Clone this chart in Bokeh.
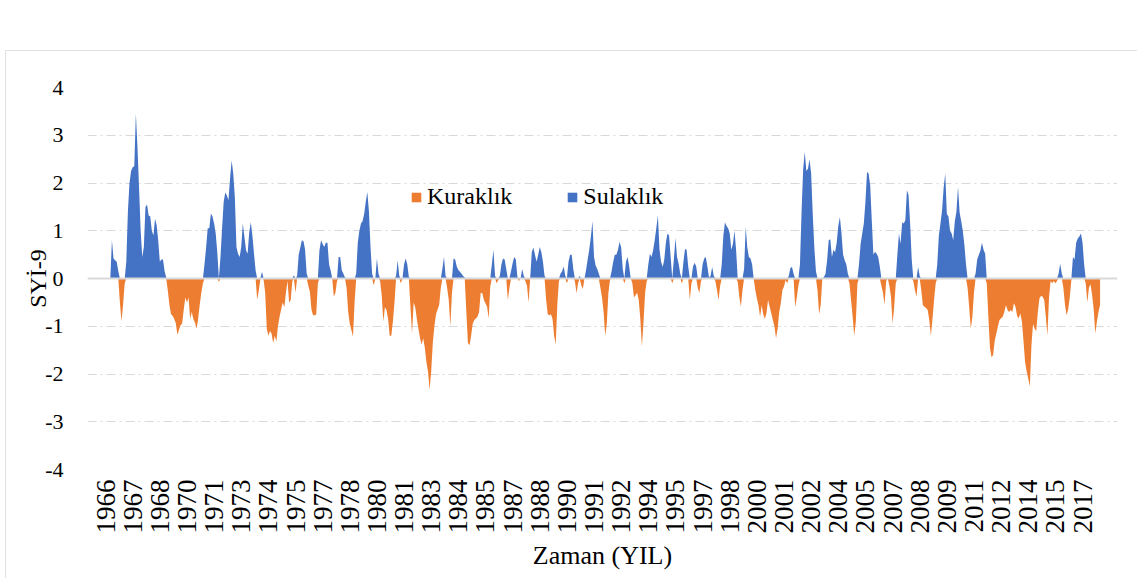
import numpy as np
from bokeh.plotting import figure
from bokeh.layouts import column, row
from bokeh.models import (Range1d, FixedTicker, Span, Legend, LegendItem, Spacer)
from bokeh.embed import file_html
from bokeh.resources import INLINE

# SYİ-9 monthly values, Jan 1966 - Dec 2017
spi_1966 = [0, 0, 0, 0, 0.8, 0.42, 0.38, 0.35, 0.15, -0.5, -0.9, -0.55]
spi_1967 = [-0.1, 0.35, 1.4, 2.0, 2.25, 2.33, 2.35, 3.45, 2.75, 1.9, 1.0, 0.45]
spi_1968 = [0.66, 1.5, 1.55, 1.32, 1.3, 1.0, 0.9, 1.25, 1.12, 0.8, 0.35, 0.4]
spi_1969 = [0.4, 0.15, 0.02, -0.25, -0.55, -0.75, -0.78, -0.85, -0.93, -1.18, -1.08, -0.98]
spi_1970 = [-0.94, -0.65, -0.4, -0.5, -0.4, -0.85, -0.7, -0.85, -0.92, -1.05, -0.85, -0.55]
spi_1971 = [-0.3, -0.1, 0.3, 0.65, 1.05, 1.05, 1.36, 1.3, 1.15, 0.95, 0.55, -0.07]
spi_1972 = [0.45, 1.05, 1.6, 1.8, 1.74, 1.64, 2.1, 2.47, 2.2, 1.7, 0.66, 0.52]
spi_1973 = [0.45, 0.66, 1.15, 0.87, 0.59, 0.52, 0.97, 1.18, 0.9, 0.52, 0.17, -0.45]
spi_1974 = [-0.25, 0.0, 0.14, -0.02, -0.3, -1.05, -1.2, -1.1, -1.15, -1.35, -1.2, -1.32]
spi_1975 = [-1.0, -0.8, -0.65, -0.5, -0.6, -0.3, -0.05, -0.5, -0.45, -0.05, 0.07, -0.3]
spi_1976 = [0.05, 0.5, 0.65, 0.8, 0.78, 0.6, 0.1, -0.15, -0.28, -0.65, -0.77, -0.77]
spi_1977 = [-0.75, -0.1, 0.59, 0.8, 0.72, 0.66, 0.75, 0.75, 0.3, 0.17, 0.0, -0.38]
spi_1978 = [-0.3, -0.05, 0.45, 0.45, 0.17, 0.1, 0.02, -0.2, -0.7, -0.95, -1.08, -1.22]
spi_1979 = [-0.5, 0.1, 0.75, 1.0, 1.15, 1.2, 1.35, 1.6, 1.81, 1.4, 0.65, 0.1]
spi_1980 = [-0.14, 0.0, 0.42, 0.1, -0.05, -0.35, -0.9, -0.6, -0.66, -0.85, -1.2, -1.2]
spi_1981 = [-0.9, -0.5, 0.05, 0.38, 0.05, -0.1, 0.0, 0.3, 0.42, 0.3, 0.03, -0.6]
spi_1982 = [-1.15, -0.5, -0.6, -0.85, -1.05, -1.25, -1.38, -1.25, -1.45, -1.75, -1.95, -2.33]
spi_1983 = [-1.95, -1.35, -1.0, -0.75, -0.65, -0.55, -0.2, 0.2, 0.45, 0.05, -0.2, -0.45]
spi_1984 = [-1.0, -0.3, 0.42, 0.4, 0.25, 0.18, 0.14, 0.1, 0.05, 0.02, -0.7, -1.35]
spi_1985 = [-1.4, -1.2, -0.95, -0.87, -0.84, -0.8, -0.7, -0.3, -0.31, -0.45, -0.52, -0.59]
spi_1986 = [-0.84, -0.17, 0.3, 0.6, 0.05, -0.1, -0.03, 0.05, 0.3, 0.42, 0.4, 0.2]
spi_1987 = [-0.45, -0.2, 0.15, 0.32, 0.45, 0.4, 0.03, -0.05, 0.0, 0.2, 0.05, -0.05]
spi_1988 = [-0.15, -0.5, 0.0, 0.55, 0.65, 0.5, 0.35, 0.5, 0.66, 0.55, 0.35, 0.05]
spi_1989 = [-0.45, -0.75, -0.77, -0.75, -0.85, -1.2, -1.38, -0.55, -0.05, 0.1, 0.15, 0.25]
spi_1990 = [0.05, -0.1, 0.35, 0.5, 0.5, 0.2, -0.05, -0.31, -0.1, 0.05, -0.14, -0.22]
spi_1991 = [0.0, 0.18, 0.4, 0.6, 0.87, 1.2, 0.45, 0.27, 0.2, 0.1, -0.2, -0.4]
spi_1992 = [-0.7, -1.2, -0.95, -0.3, -0.03, 0.15, 0.35, 0.5, 0.5, 0.6, 0.77, 0.65]
spi_1993 = [0.2, -0.1, 0.35, 0.45, 0.25, 0.0, -0.1, -0.4, -0.35, -0.3, -0.45, -0.85]
spi_1994 = [-1.43, -0.9, -0.3, -0.05, 0.3, 0.52, 0.45, 0.59, 0.8, 1.05, 1.32, 0.6]
spi_1995 = [0.35, 0.24, 0.4, 0.75, 0.94, 0.9, 0.45, -0.1, 0.4, 0.85, 0.45, 0.31]
spi_1996 = [0.1, -0.1, 0.35, 0.62, 0.6, 0.25, -0.45, -0.1, 0.25, 0.33, 0.25, -0.2]
spi_1997 = [-0.3, -0.05, 0.3, 0.42, 0.45, 0.25, 0.02, 0.05, 0.24, 0.05, -0.05, -0.24]
spi_1998 = [-0.45, -0.15, 0.3, 0.9, 1.18, 1.1, 1.05, 0.94, 0.6, 0.73, 1.0, 0.59]
spi_1999 = [-0.07, -0.38, -0.59, -0.24, 0.2, 1.08, 0.65, 0.45, 0.42, 0.3, 0.0, -0.24]
spi_2000 = [-0.42, -0.56, -0.8, -0.56, -0.75, -0.85, -0.73, -0.45, -0.59, -0.73, -0.87, -1.0]
spi_2001 = [-1.25, -1.05, -0.7, -0.52, -0.24, -0.17, -0.03, -0.1, 0.05, 0.22, 0.24, 0.1]
spi_2002 = [-0.6, -0.4, -0.15, 0.3, 1.4, 2.3, 2.65, 2.25, 2.3, 2.5, 2.2, 1.35]
spi_2003 = [0.65, 0.15, -0.25, -0.75, -0.55, 0.0, 0.03, 0.1, 0.38, 0.8, 0.82, 0.45]
spi_2004 = [0.6, 0.55, 0.75, 1.1, 1.29, 0.95, 0.5, 0.38, 0.3, 0.1, -0.1, -0.45]
spi_2005 = [-0.8, -1.2, -0.9, -0.1, 0.31, 0.73, 0.94, 1.15, 1.6, 2.23, 2.2, 1.95]
spi_2006 = [1.2, 0.5, 0.56, 0.52, 0.45, 0.25, -0.15, -0.3, -0.55, -0.05, 0.0, -0.15]
spi_2007 = [-0.38, -0.95, -0.6, -0.1, 0.5, 0.94, 0.73, 1.18, 1.15, 1.22, 1.85, 1.75]
spi_2008 = [1.15, 0.4, -0.05, -0.24, -0.38, 0.24, 0.05, -0.25, -0.56, -0.59, -0.62, -0.66]
spi_2009 = [-0.87, -1.2, -0.85, -0.45, -0.1, 0.3, 0.9, 1.15, 1.43, 1.9, 2.2, 1.35]
spi_2010 = [1.3, 1.0, 0.94, 0.8, 1.2, 1.4, 1.92, 1.38, 1.2, 1.0, 0.7, 0.3]
spi_2011 = [-0.2, -0.6, -1.05, -0.8, -0.3, 0.1, 0.4, 0.49, 0.58, 0.75, 0.6, 0.52]
spi_2012 = [-0.1, -0.8, -1.45, -1.65, -1.6, -1.3, -1.15, -1.0, -0.87, -0.83, -0.8, -0.7]
spi_2013 = [-0.56, -0.66, -0.7, -0.66, -0.7, -0.52, -0.59, -0.78, -0.84, -0.73, -0.9, -1.3]
spi_2014 = [-1.75, -1.95, -2.1, -2.26, -1.4, -0.95, -1.05, -1.1, -0.7, -0.42, -0.36, -0.38]
spi_2015 = [-0.45, -0.8, -1.2, -0.4, -0.05, -0.1, -0.05, -0.1, -0.05, 0.1, 0.31, 0.1]
spi_2016 = [-0.2, -0.55, -0.77, -0.65, -0.4, -0.03, 0.45, 0.4, 0.75, 0.84, 0.88, 0.94]
spi_2017 = [0.75, 0.3, -0.1, -0.5, -0.2, -0.12, -0.35, -0.65, -1.15, -0.9, -0.7, -0.55]

# category-axis labels (one every 17 months, as in the original)
x_labels = ["1966", "1967", "1968", "1970", "1971", "1973", "1974", "1975",
            "1977", "1978", "1980", "1981", "1983", "1984", "1985", "1987",
            "1988", "1990", "1991", "1992", "1994", "1995", "1997", "1998",
            "2000", "2001", "2002", "2004", "2005", "2007", "2008", "2009",
            "2011", "2012", "2014", "2015", "2017"]
y_values = [-4, -3, -2, -1, 0, 1, 2, 3, 4]
y_labels = ["-4", "-3", "-2", "-1", "0", "1", "2", "3", "4"]
series_names = ["Kuraklık", "Sulaklık"]

values = np.array(
    spi_1966 + spi_1967 + spi_1968 + spi_1969 + spi_1970 + spi_1971 + spi_1972
    + spi_1973 + spi_1974 + spi_1975 + spi_1976 + spi_1977 + spi_1978 + spi_1979
    + spi_1980 + spi_1981 + spi_1982 + spi_1983 + spi_1984 + spi_1985 + spi_1986
    + spi_1987 + spi_1988 + spi_1989 + spi_1990 + spi_1991 + spi_1992 + spi_1993
    + spi_1994 + spi_1995 + spi_1996 + spi_1997 + spi_1998 + spi_1999 + spi_2000
    + spi_2001 + spi_2002 + spi_2003 + spi_2004 + spi_2005 + spi_2006 + spi_2007
    + spi_2008 + spi_2009 + spi_2010 + spi_2011 + spi_2012 + spi_2013 + spi_2014
    + spi_2015 + spi_2016 + spi_2017, dtype=float)
months = np.arange(len(values))
drought = np.minimum(values, 0.0)
wet = np.maximum(values, 0.0)

FONT = "Liberation Serif"
ORANGE = "#ED7D31"
BLUE = "#4472C4"
GRID = "#D9D9D9"

p = figure(frame_width=1030, frame_height=382, output_backend="svg",
           toolbar_location=None,
           x_range=Range1d(-11.3, 633.9), y_range=Range1d(-4, 4),
           min_border_left=82, min_border_right=20, min_border_top=37,
           min_border_bottom=109)
p.outline_line_color = None
p.background_fill_color = "white"
p.border_fill_color = "white"
p.styles = {"outline": "1px solid #D9D9D9", "outline-offset": "-1px"}

r_neg = p.varea(x=months, y1=0, y2=drought, fill_color=ORANGE)
r_pos = p.varea(x=months, y1=0, y2=wet, fill_color=BLUE)

# gridlines
p.xgrid.visible = False
p.ygrid.ticker = FixedTicker(ticks=[v for v in y_values if v != 0])
p.ygrid.grid_line_color = GRID
p.ygrid.grid_line_width = 1
p.ygrid.grid_line_dash = "9 4 2 4"

# zero (category) axis line
p.add_layout(Span(location=0, dimension="width", line_color=GRID, line_width=2))

# x axis
xa = p.xaxis[0]
xa.ticker = FixedTicker(ticks=[17 * i for i in range(len(x_labels))])
xa.major_label_overrides = {17 * i: lab for i, lab in enumerate(x_labels)}
xa.major_label_orientation = np.pi / 2
xa.major_label_text_font = FONT
xa.major_label_text_font_size = "27px"
xa.major_label_text_color = "#000000"
xa.major_label_standoff = 4
xa.axis_line_color = None
xa.major_tick_line_color = None
xa.minor_tick_line_color = None
xa.axis_label = "Zaman (YIL)"
xa.axis_label_text_font = FONT
xa.axis_label_text_font_size = "26px"
xa.axis_label_text_font_style = "normal"
xa.axis_label_text_color = "#000000"
xa.axis_label_standoff = 4

# y axis
ya = p.yaxis[0]
ya.ticker = FixedTicker(ticks=y_values)
ya.major_label_overrides = {v: lab for v, lab in zip(y_values, y_labels)}
ya.major_label_text_font = FONT
ya.major_label_text_font_size = "22px"
ya.major_label_text_color = "#000000"
ya.major_label_standoff = 18
ya.axis_line_color = None
ya.major_tick_line_color = None
ya.minor_tick_line_color = None
ya.axis_label = "SYİ-9"
ya.axis_label_text_font = FONT
ya.axis_label_text_font_size = "24px"
ya.axis_label_text_font_style = "normal"
ya.axis_label_text_color = "#000000"
ya.axis_label_standoff = -9

# legend inside the plot, near the top centre
legend = Legend(items=[LegendItem(label=series_names[0], renderers=[r_neg]),
                       LegendItem(label=series_names[1], renderers=[r_pos])],
                location=(323, 259), orientation="horizontal",
                label_text_font=FONT, label_text_font_size="24px",
                label_text_color="#000000",
                glyph_width=12, glyph_height=12, label_standoff=5, spacing=54,
                padding=0, margin=0, border_line_color=None,
                background_fill_alpha=0)
p.add_layout(legend)

layout = column(Spacer(width=1137, height=50),
                row(Spacer(width=5, height=528), p, spacing=0),
                spacing=0)

open("out.html", "w").write(file_html(layout, INLINE))
